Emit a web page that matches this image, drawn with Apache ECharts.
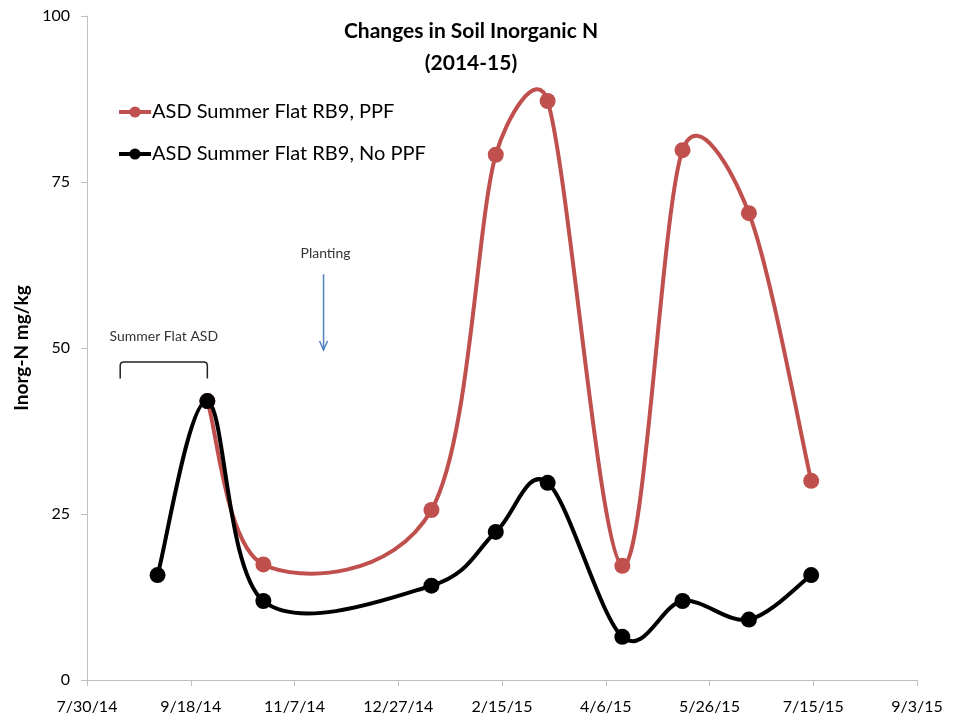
<!DOCTYPE html>
<html>
<head>
<meta charset="utf-8">
<script src="https://cdn.jsdelivr.net/npm/echarts@6/dist/echarts.min.js"></script>
<style>
  html, body { margin: 0; padding: 0; background: #fff; }
  #chart { width: 954px; height: 718px; }
</style>
</head>
<body>
<div id="chart"></div>
<script>
// Sampling dates and soil inorganic N (mg/kg)
var ppfDates   = ['2014-09-26', '2014-10-23', '2015-01-12', '2015-02-12', '2015-03-09', '2015-04-14', '2015-05-13', '2015-06-14', '2015-07-14'];
var ppfValues  = [42.0, 17.4, 25.6, 79.1, 87.2, 17.2, 79.8, 70.3, 30.0];
var noPpfDates  = ['2014-09-02', '2014-09-26', '2014-10-23', '2015-01-12', '2015-02-12', '2015-03-09', '2015-04-14', '2015-05-13', '2015-06-14', '2015-07-14'];
var noPpfValues = [15.8, 42.0, 11.9, 14.2, 22.3, 29.7, 6.5, 11.9, 9.1, 15.8];

var seriesNames = ['ASD Summer Flat RB9, PPF', 'ASD Summer Flat RB9, No PPF'];
var seriesColors = ['#C0504D', '#000000'];

// Axis extent: 50-day steps from 7/30/14 to 9/3/15
var xStart = '2014-07-30';
var xEnd = '2015-09-03';
var xStepDays = 50;
var yTicks = [0, 25, 50, 75, 100];

// Annotations (date, value)
var plantingLabel = 'Planting';
var plantingDate = '2014-11-21';
var asdLabel = 'Summer Flat ASD';
var asdStart = '2014-08-15';
var asdEnd = '2014-09-26';

var DAY = 86400000;
function ts(s) { var p = s.split('-'); return Date.UTC(+p[0], +p[1] - 1, +p[2]); }
function pairs(dates, vals) { return dates.map(function (d, i) { return [ts(d), vals[i]]; }); }
function fmtDate(v) {
  var d = new Date(v);
  return (d.getUTCMonth() + 1) + '/' + d.getUTCDate() + '/' + String(d.getUTCFullYear()).slice(2);
}

var ppfData = pairs(ppfDates, ppfValues);
var noPpfData = pairs(noPpfDates, noPpfValues);

var FONT = 'Lato';

// Smoothed curve: cubic Bezier segments whose handles follow the neighbouring
// points, limited to half of the segment length.
function smoothCurve(id, points, color, z) {
  return {
    id: id,
    type: 'custom',
    coordinateSystem: 'cartesian2d',
    data: points,
    z: z,
    silent: true,
    renderItem: function (params, api) {
      var i = params.dataIndex, n = points.length;
      if (i >= n - 1) return null;
      function P(k) { k = Math.max(0, Math.min(n - 1, k)); return api.coord(points[k]); }
      var p0 = P(i - 1), p1 = P(i), p2 = P(i + 1), p3 = P(i + 2);
      function dist(a, b) { return Math.sqrt((a[0] - b[0]) * (a[0] - b[0]) + (a[1] - b[1]) * (a[1] - b[1])); }
      var d12 = dist(p1, p2), d02 = dist(p0, p2), d13 = dist(p1, p3);
      var f1 = d02 > 0 ? Math.min(1 / 6, d12 / (2 * d02)) : 0;
      var f2 = d13 > 0 ? Math.min(1 / 6, d12 / (2 * d13)) : 0;
      return {
        type: 'bezierCurve',
        shape: {
          x1: p1[0], y1: p1[1], x2: p2[0], y2: p2[1],
          cpx1: p1[0] + (p2[0] - p0[0]) * f1, cpy1: p1[1] + (p2[1] - p0[1]) * f1,
          cpx2: p2[0] - (p3[0] - p1[0]) * f2, cpy2: p2[1] - (p3[1] - p1[1]) * f2
        },
        style: { stroke: color, lineWidth: 4, fill: null, lineCap: 'round' }
      };
    }
  };
}

function markerSeries(name, points, color, z) {
  return {
    name: name,
    type: 'line',
    data: points,
    z: z,
    symbol: 'circle',
    symbolSize: 16,
    showSymbol: true,
    lineStyle: { width: 0, opacity: 0, color: color },
    itemStyle: { color: color },
    emphasis: { disabled: true },
    animation: false
  };
}

var chart = echarts.init(document.getElementById('chart'), null, { renderer: 'canvas' });

chart.setOption({
  animation: false,
  backgroundColor: '#ffffff',
  title: {
    text: 'Changes in Soil Inorganic N\n(2014-15)',
    left: 466,
    top: 10,
    textAlign: 'center',
    textStyle: { fontFamily: FONT, fontWeight: 'bold', fontSize: 21, color: '#000', lineHeight: 32 }
  },
  legend: {
    orient: 'vertical',
    left: 112,
    top: 97,
    itemGap: 22,
    itemWidth: 32,
    itemHeight: 14,
    data: seriesNames,
    textStyle: { fontFamily: FONT, fontSize: 20, color: '#000', padding: [0, 0, 0, -4] },
    lineStyle: { width: 4, opacity: 1 },
    selectedMode: false
  },
  grid: { left: 87, right: 37, top: 16, bottom: 38, containLabel: false },
  xAxis: {
    type: 'value',
    min: ts(xStart),
    max: ts(xEnd),
    interval: xStepDays * DAY,
    splitLine: { show: false },
    axisLine: { lineStyle: { color: '#BFBFBF', width: 1 } },
    axisTick: { show: true, length: 6, lineStyle: { color: '#BFBFBF' } },
    axisLabel: { formatter: fmtDate, fontFamily: FONT, fontSize: 16, color: '#000', margin: 19 }
  },
  yAxis: {
    type: 'value',
    min: yTicks[0],
    max: yTicks[yTicks.length - 1],
    interval: yTicks[1] - yTicks[0],
    name: 'Inorg-N mg/kg',
    nameLocation: 'middle',
    nameGap: 54,
    nameTextStyle: { fontFamily: FONT, fontWeight: 'bold', fontSize: 19, color: '#000' },
    splitLine: { show: false },
    axisLine: { show: true, lineStyle: { color: '#BFBFBF', width: 1 } },
    axisTick: { show: true, length: 6, lineStyle: { color: '#BFBFBF' } },
    axisLabel: { fontFamily: FONT, fontSize: 16, color: '#000', margin: 17 }
  },
  series: [
    smoothCurve('ppfCurve', ppfData, seriesColors[0], 2),
    smoothCurve('noPpfCurve', noPpfData, seriesColors[1], 3),
    markerSeries(seriesNames[0], ppfData, seriesColors[0], 4),
    markerSeries(seriesNames[1], noPpfData, seriesColors[1], 5)
  ]
});

// Field-operation annotations placed in data coordinates
function px(date, v) { return chart.convertToPixel({ gridIndex: 0 }, [ts(date), v]); }
var pTxt = px(plantingDate, 64.2);
var pTop = px(plantingDate, 61.1);
var pBot = px(plantingDate, 49.7);
var bL = px(asdStart, 45.4)[0], bR = px(asdEnd, 45.4)[0];
var bTop = px(asdStart, 47.9)[1], bBot = px(asdStart, 45.4)[1];
var aTxt = px(asdStart, 51.7);
var r = 3;

chart.setOption({
  graphic: [
    {
      type: 'text', x: pTxt[0] + 2, y: pTxt[1], z: 10,
      style: { text: plantingLabel, fontFamily: FONT, fontSize: 14, fill: '#333', textAlign: 'center', textVerticalAlign: 'middle' }
    },
    {
      type: 'line', z: 10,
      shape: { x1: pTop[0], y1: pTop[1], x2: pBot[0], y2: pBot[1] },
      style: { stroke: '#4F81BD', lineWidth: 1.5 }
    },
    {
      type: 'polyline', z: 10,
      shape: { points: [[pBot[0] - 4, pBot[1] - 9], [pBot[0], pBot[1]], [pBot[0] + 4, pBot[1] - 9]] },
      style: { stroke: '#4F81BD', lineWidth: 1.5, fill: null }
    },
    {
      type: 'text', x: (bL + bR) / 2, y: aTxt[1], z: 10,
      style: { text: asdLabel, fontFamily: FONT, fontSize: 14, fill: '#333', textAlign: 'center', textVerticalAlign: 'middle' }
    },
    {
      type: 'polyline', z: 10,
      shape: {
        points: [
          [bL, bBot], [bL, bTop + r], [bL + 0.9, bTop + 0.9], [bL + r, bTop],
          [bR - r, bTop], [bR - 0.9, bTop + 0.9], [bR, bTop + r], [bR, bBot]
        ]
      },
      style: { stroke: '#222', lineWidth: 1.5, fill: null }
    }
  ]
});
</script>
</body>
</html>
